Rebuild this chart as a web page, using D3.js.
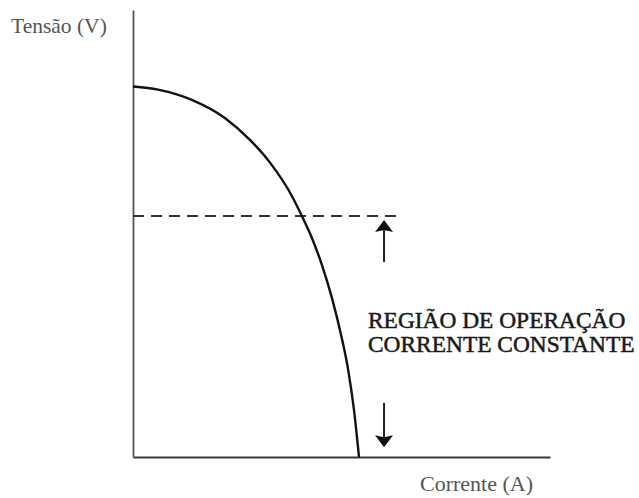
<!DOCTYPE html>
<html>
<head>
<meta charset="utf-8">
<script src="https://cdn.jsdelivr.net/npm/d3@7"></script>
<style>
  body { margin: 0; background: #fff; }
  text { font-family: "Liberation Serif", "Times New Roman", serif; }
</style>
</head>
<body>
<div id="chart"></div>
<script>
// curva I-V (corrente em A, tensão em V)
var corrente = [0, 0.60, 1.41, 2.21, 2.81, 3.29, 3.81, 4.05, 4.29, 4.53, 4.77, 4.99, 5.16, 5.30, 5.42];
var tensao   = [8.29, 8.22, 7.99, 7.58, 7.09, 6.58, 5.84, 5.39, 4.90, 4.30, 3.56, 2.73, 1.95, 1.05, 0];

var tensaoLimite = 5.39;     // linha tracejada
var limiteFim = 6.45;        // até onde vai a linha tracejada
var setaX = 6.02;
var setaCima = [4.36, 5.30]; // base, ponta
var setaBaixo = [1.21, 0.22];

var rotuloY = "Tensão (V)";
var rotuloX = "Corrente (A)";
var regiao = ["REGIÃO DE OPERAÇÃO", "CORRENTE CONSTANTE"];

var width = 639, height = 498;

var svg = d3.select("#chart").append("svg")
    .attr("width", width)
    .attr("height", height);

var x = d3.scaleLinear().domain([0, 10]).range([133, 550]);
var y = d3.scaleLinear().domain([0, 10]).range([457, 10]);

var data = corrente.map(function(c, i) { return {i: c, v: tensao[i]}; });

// eixos sem marcas
svg.append("g")
    .attr("transform", "translate(0," + y(0) + ")")
    .call(d3.axisBottom(x).ticks(0).tickSizeOuter(0))
    .call(function(g) { g.select(".domain").attr("stroke", "#3a3a3a").attr("stroke-width", 2); });

svg.append("g")
    .attr("transform", "translate(" + x(0) + ",0)")
    .call(d3.axisLeft(y).ticks(0).tickSizeOuter(0))
    .call(function(g) { g.select(".domain").attr("stroke", "#555").attr("stroke-width", 1.8); });

// linha tracejada
svg.append("line")
    .attr("x1", x(0)).attr("x2", x(limiteFim))
    .attr("y1", y(tensaoLimite)).attr("y2", y(tensaoLimite))
    .attr("stroke", "#333")
    .attr("stroke-width", 2)
    .attr("stroke-dasharray", "11,7");

// curva
var line = d3.line()
    .x(function(d) { return x(d.i); })
    .y(function(d) { return y(d.v); })
    .curve(d3.curveMonotoneX);

svg.append("path")
    .datum(data)
    .attr("fill", "none")
    .attr("stroke", "#111")
    .attr("stroke-width", 2.4)
    .attr("d", line);

// setas
function seta(base, ponta) {
    var dir = ponta > base ? -1 : 1; // sentido em pixels
    var px = x(setaX), pb = y(base), pp = y(ponta);
    svg.append("line")
        .attr("x1", px).attr("x2", px)
        .attr("y1", pb).attr("y2", pp - dir * 6)
        .attr("stroke", "#222")
        .attr("stroke-width", 2);
    svg.append("path")
        .attr("d", "M" + px + "," + pp +
            " L" + (px + 9) + "," + (pp - dir * 12) +
            " L" + px + "," + (pp - dir * 10) +
            " L" + (px - 9) + "," + (pp - dir * 12) + " Z")
        .attr("fill", "#111");
}
seta(setaCima[0], setaCima[1]);
seta(setaBaixo[0], setaBaixo[1]);

// textos
svg.append("text")
    .attr("x", 11).attr("y", 33)
    .attr("font-size", 21.5)
    .attr("fill", "#555")
    .text(rotuloY);

svg.append("text")
    .attr("x", 420).attr("y", 491)
    .attr("font-size", 22)
    .attr("fill", "#555")
    .text(rotuloX);

svg.selectAll("text.regiao")
    .data(regiao)
    .enter().append("text")
    .attr("class", "regiao")
    .attr("x", 368)
    .attr("y", function(d, i) { return 327.5 + i * 24; })
    .attr("font-size", 23.4)
    .attr("fill", "#1a1a1a")
    .attr("stroke", "#1a1a1a")
    .attr("stroke-width", 0.5)
    .text(function(d) { return d; });
</script>
</body>
</html>
